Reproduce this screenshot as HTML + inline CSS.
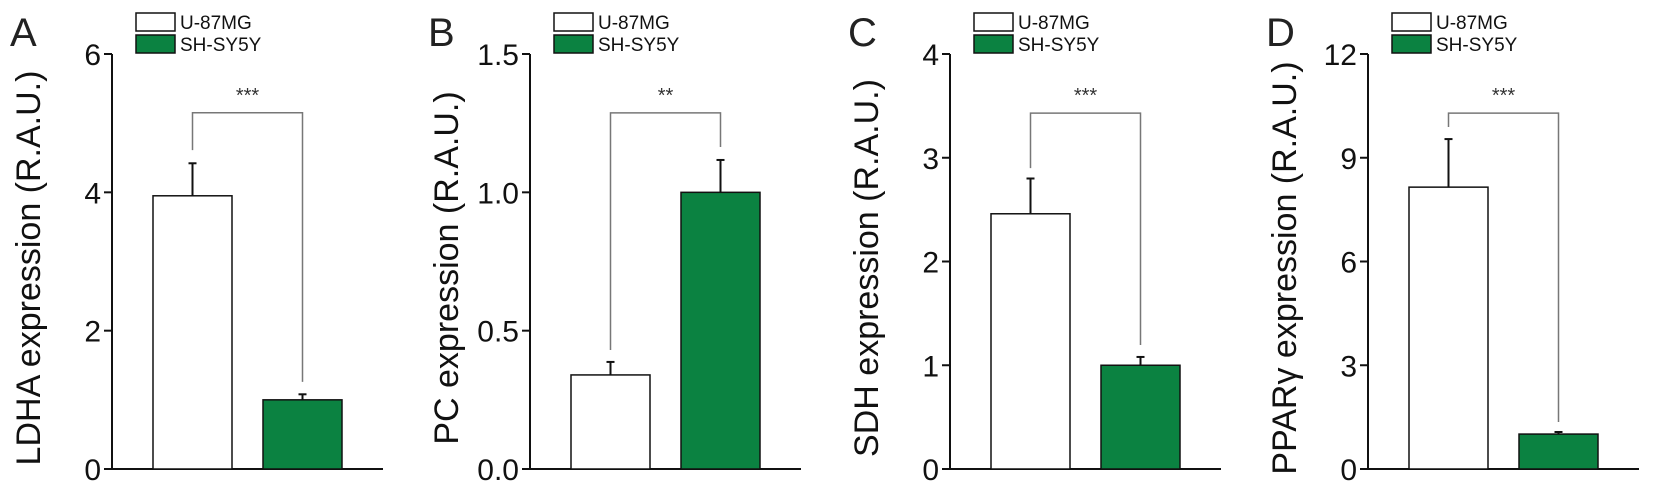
<!DOCTYPE html>
<html><head><meta charset="utf-8"><style>
html,body{margin:0;padding:0;background:#fff;}
svg{display:block;font-family:"Liberation Sans",Arial,sans-serif;}
</style></head><body>
<svg id="fig" width="1654" height="490" viewBox="0 0 1654 490"></svg>
<script>
const panelLetters = ['A','B','C','D'];
const yTitles = ['LDHA expression (R.A.U.)','PC expression (R.A.U.)','SDH expression (R.A.U.)','PPARγ expression (R.A.U.)'];
const yMax = [6, 1.5, 4, 12];
const yTicks = [[0,2,4,6],[0,0.5,1.0,1.5],[0,1,2,3,4],[0,3,6,9,12]];
const yTickLabels = [['0','2','4','6'],['0.0','0.5','1.0','1.5'],['0','1','2','3','4'],['0','3','6','9','12']];
const seriesNames = ['U-87MG','SH-SY5Y'];
const u87Values = [3.95, 0.34, 2.46, 8.15];
const u87Err = [0.47, 0.047, 0.34, 1.39];
const shValues = [1.0, 1.0, 1.0, 1.01];
const shErr = [0.08, 0.117, 0.08, 0.06];
const sigLabels = ['***','**','***','***'];
const bracketTop = [5.15, 1.287, 3.43, 10.29];
const bracketLeftEnd = [4.61, 0.43, 2.90, 9.89];
const bracketRightEnd = [1.26, 1.164, 1.195, 1.36];

const NS='http://www.w3.org/2000/svg';
const svg=document.getElementById('fig');
function mk(tag,attrs,parent,text){const e=document.createElementNS(NS,tag);for(const k in attrs)e.setAttribute(k,attrs[k]);if(text!==undefined)e.textContent=text;(parent||svg).appendChild(e);return e;}
const axisX=[112,530,950,1368];
const Y0=469, Y1=54;
const GREEN='#0b8241';
for(let p=0;p<4;p++){
  const a=axisX[p];
  const y=v=>Y0-(v/yMax[p])*(Y0-Y1);
  const g=mk('g',{});
  
  
  const L=mk('text',{x:a-102,y:46,'font-size':40,fill:'#222'},g,panelLetters[p]);
  
  
  const yt=mk('text',{x:0,y:0,'font-size':34,fill:'#111','text-anchor':'middle',transform:`translate(${a-72},268) rotate(-90)`},g,yTitles[p]);
  
  
  const lg=mk('g',{},g);
  
  
  mk('rect',{x:a+24,y:13,width:39,height:18,fill:'#fff',stroke:'#111','stroke-width':1.5},lg);
  mk('rect',{x:a+24,y:35,width:39,height:18,fill:GREEN,stroke:'#111','stroke-width':1.5},lg);
  mk('text',{x:a+68,y:29,'font-size':19,fill:'#111'},lg,seriesNames[0]);
  mk('text',{x:a+68,y:51,'font-size':19,fill:'#111'},lg,seriesNames[1]);
  const ax=mk('line',{x1:a,y1:Y1,x2:a,y2:Y0,stroke:'#111','stroke-width':2},g);
  
  
  const xa=mk('line',{x1:a-1,y1:Y0,x2:a+271,y2:Y0,stroke:'#111','stroke-width':2},g);
  
  
  yTicks[p].forEach((t,i)=>{
    mk('line',{x1:a-8,y1:y(t),x2:a,y2:y(t),stroke:'#111','stroke-width':2},g);
    const tl=mk('text',{x:a-11,y:y(t)+11,'font-size':30,fill:'#111','text-anchor':'end'},g,yTickLabels[p][i]);
    
    
  });
  const bars=[[a+41,u87Values[p],u87Err[p],'#fff'],[a+151,shValues[p],shErr[p],GREEN]];
  bars.forEach((b,i)=>{
    const cx=b[0]+39.5, top=y(b[1]), et=y(b[1]+b[2]);
    mk('line',{x1:cx,y1:top,x2:cx,y2:et,stroke:'#111','stroke-width':2},g);
    mk('line',{x1:cx-4,y1:et,x2:cx+4,y2:et,stroke:'#111','stroke-width':2},g);
    const r=mk('rect',{x:b[0],y:top,width:79,height:Y0-top,fill:b[3],stroke:'#111','stroke-width':1.5},g);
    
    
  });
  const lx=a+80.5, rx=a+190.5, ty=y(bracketTop[p]);
  const br=mk('polyline',{points:`${lx},${y(bracketLeftEnd[p])} ${lx},${ty} ${rx},${ty} ${rx},${y(bracketRightEnd[p])}`,fill:'none',stroke:'#777','stroke-width':1.5},g);
  
  
  const st=mk('text',{x:(lx+rx)/2,y:ty-11,'font-size':20,fill:'#333','text-anchor':'middle'},g,sigLabels[p]);
  
  
}
</script>
</body></html>
